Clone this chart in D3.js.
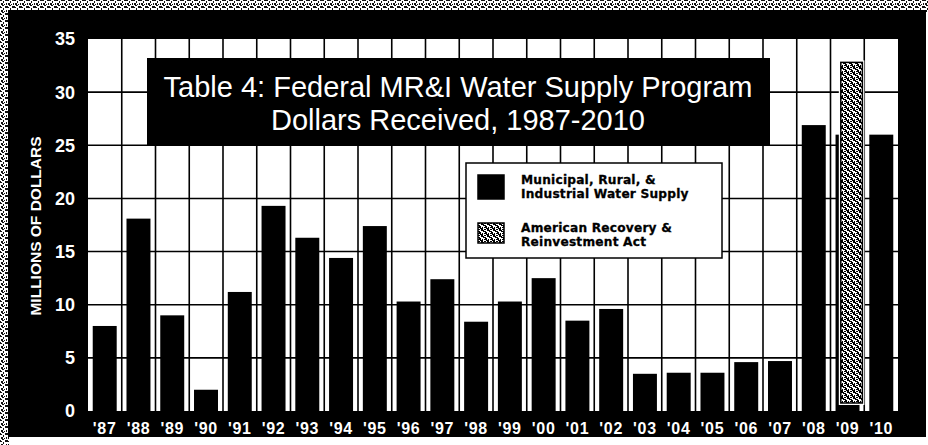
<!DOCTYPE html>
<html>
<head>
<meta charset="utf-8">
<script src="https://cdn.jsdelivr.net/npm/d3@7"></script>
<style>
  html, body { margin: 0; padding: 0; background: #fff; }
  svg { display: block; }
</style>
</head>
<body>
<svg id="chart" width="928" height="445"></svg>
<script>
// ---- data ----
const years = ["'87","'88","'89","'90","'91","'92","'93","'94","'95","'96","'97","'98","'99","'00","'01","'02","'03","'04","'05","'06","'07","'08","'09","'10"];
const mriValues = [8.0, 18.1, 9.0, 2.0, 11.2, 19.3, 16.3, 14.4, 17.4, 10.3, 12.4, 8.4, 10.3, 12.5, 8.5, 9.6, 3.5, 3.6, 3.6, 4.6, 4.7, 26.9, 26.0, 26.0];
const arraYears = ["'09"];
const arraValues = [32.8];
const yTicks = [0, 5, 10, 15, 20, 25, 30, 35];
const titleLines = ["Table 4: Federal MR&I Water Supply Program", "Dollars Received, 1987-2010"];
const legendItems = [
  { key: "mri", lines: ["Municipal, Rural, &", "Industrial Water Supply"] },
  { key: "arra", lines: ["American Recovery &", "Reinvestment Act"] }
];
const yTitle = "MILLIONS OF DOLLARS";

// ---- layout ----
const svg = d3.select("#chart");
const W = 928, H = 445;
const plot = { left: 88, right: 898, top: 39, bottom: 411 };
const FONT = "'Liberation Sans', Arial, Helvetica, sans-serif";
const FONT_HEAVY = "'DejaVu Sans', 'Liberation Sans', Arial, sans-serif";

const defs = svg.append("defs");
// scan speckle pattern for the frame
const speck = defs.append("pattern").attr("id", "speck").attr("patternUnits", "userSpaceOnUse")
  .attr("width", 7).attr("height", 7);
speck.append("rect").attr("width", 7).attr("height", 7).attr("fill", "#fff");
[[0,0,2,1],[3,1,1,2],[5,0,2,1],[1,3,2,2],[4,4,1,1],[6,3,1,2],[0,6,1,1],[2,5,2,1],[5,6,2,1]].forEach(d =>
  speck.append("rect").attr("x", d[0]).attr("y", d[1]).attr("width", d[2]).attr("height", d[3]).attr("fill", "#111"));
// ARRA texture (dark speckle)
const arraPat = defs.append("pattern").attr("id", "arraPat").attr("patternUnits", "userSpaceOnUse")
  .attr("width", 6).attr("height", 6);
arraPat.append("rect").attr("width", 6).attr("height", 6).attr("fill", "#fff");
[[0,0,2,1],[2,0,1,2],[4,1,2,1],[1,2,2,1],[3,3,2,1],[0,4,1,2],[5,3,1,2],[2,5,1,1],[4,5,2,1],[1,1,1,1],[3,2,1,1]].forEach(d =>
  arraPat.append("rect").attr("x", d[0]).attr("y", d[1]).attr("width", d[2]).attr("height", d[3]).attr("fill", "#000"));

// background with scanned edges
svg.append("rect").attr("width", W).attr("height", H).attr("fill", "#fff");
svg.append("rect").attr("x", 0).attr("y", 0).attr("width", W).attr("height", 12).attr("fill", "url(#speck)");
svg.append("rect").attr("x", 0).attr("y", 0).attr("width", 9).attr("height", H).attr("fill", "url(#speck)");
// black panel
svg.append("rect").attr("x", 8).attr("y", 10).attr("width", 918).attr("height", 427).attr("fill", "#000");

// scales
const x = d3.scaleBand().domain(years).range([plot.left, plot.right]).paddingInner(0.29).paddingOuter(0.14);
const xGrid = d3.scaleBand().domain(years).range([plot.left, plot.right]);
const y = d3.scaleLinear().domain([0, 35]).range([plot.bottom, plot.top]);

// white plot area
svg.append("rect").attr("x", plot.left).attr("y", plot.top)
  .attr("width", plot.right - plot.left).attr("height", plot.bottom - plot.top).attr("fill", "#fff");

// grid
const grid = svg.append("g").attr("stroke", "#000").attr("stroke-width", 1.6);
grid.selectAll("line.h").data(yTicks.filter(t => t > 0 && t < 35)).join("line")
  .attr("x1", plot.left).attr("x2", plot.right)
  .attr("y1", d => y(d)).attr("y2", d => y(d));
grid.selectAll("line.v").data(years.slice(1)).join("line")
  .attr("x1", d => xGrid(d)).attr("x2", d => xGrid(d))
  .attr("y1", plot.top).attr("y2", plot.bottom);

// title box
const tb = svg.append("g");
tb.append("rect").attr("x", 147).attr("y", 58).attr("width", 623).attr("height", 88).attr("fill", "#000");
tb.selectAll("text").data(titleLines).join("text")
  .attr("x", 458).attr("y", (d, i) => 97 + i * 33)
  .attr("text-anchor", "middle").attr("fill", "#fff")
  .attr("font-family", FONT).attr("font-size", 29)
  .text(d => d);

// legend
const lg = svg.append("g");
lg.append("rect").attr("x", 466).attr("y", 163).attr("width", 256).attr("height", 95)
  .attr("fill", "#fff").attr("stroke", "#000").attr("stroke-width", 1.5);
const li = lg.selectAll("g.item").data(legendItems).join("g").attr("class", "item")
  .attr("transform", (d, i) => `translate(0, ${i * 48})`);
li.append("rect")
  .attr("x", 478).attr("y", 175)
  .attr("width", 26).attr("height", d => d.key === "mri" ? 24 : 20)
  .attr("fill", d => d.key === "mri" ? "#000" : "url(#arraPat)")
  .attr("stroke", "#000").attr("stroke-width", 1.5);
li.each(function(d) {
  d3.select(this).selectAll("text").data(d.lines).join("text")
    .attr("x", 521).attr("y", (t, j) => 183.5 + j * 14)
    .attr("fill", "#000").attr("font-family", FONT_HEAVY).attr("font-weight", "bold")
    .attr("font-size", 12.2).attr("stroke", "#000").attr("stroke-width", 0.3)
    .attr("letter-spacing", 0.2)
    .text(t => t);
});

// bars
svg.append("g").selectAll("rect").data(years.map((yr, i) => ({ yr, v: mriValues[i] }))).join("rect")
  .attr("x", d => x(d.yr)).attr("width", x.bandwidth())
  .attr("y", d => y(d.v)).attr("height", d => y(0) - y(d.v))
  .attr("fill", "#000");

const arraData = arraYears.map((yr, i) => ({ yr, v: arraValues[i] }));
svg.append("g").selectAll("rect").data(arraData).join("rect")
  .attr("x", d => x(d.yr) + x.bandwidth() * 0.22 - 2).attr("width", x.bandwidth() * 0.9 + 4)
  .attr("y", d => y(d.v) - 2).attr("height", d => y(0) - y(d.v) - 4)
  .attr("fill", "#fff");
svg.append("g").selectAll("rect").data(arraData).join("rect")
  .attr("x", d => x(d.yr) + x.bandwidth() * 0.22).attr("width", x.bandwidth() * 0.9)
  .attr("y", d => y(d.v)).attr("height", d => y(0) - y(d.v) - 8)
  .attr("fill", "url(#arraPat)").attr("stroke", "#000").attr("stroke-width", 1.5);

// y axis labels
svg.append("g").selectAll("text").data(yTicks).join("text")
  .attr("x", 75).attr("y", d => y(d)).attr("dy", "0.36em")
  .attr("text-anchor", "end").attr("fill", "#fff")
  .attr("font-family", FONT).attr("font-weight", "bold").attr("font-size", 18)
  .text(d => d);

// x axis labels
svg.append("g").selectAll("text").data(years).join("text")
  .attr("x", d => x(d) + x.bandwidth() / 2).attr("y", 434)
  .attr("text-anchor", "middle").attr("fill", "#fff")
  .attr("font-family", FONT).attr("font-weight", "bold").attr("font-size", 16)
  .attr("letter-spacing", 0.7)
  .text(d => d);

// y title
svg.append("text")
  .attr("transform", "translate(41, 226) rotate(-90)")
  .attr("text-anchor", "middle").attr("fill", "#fff")
  .attr("font-family", FONT).attr("font-weight", "bold").attr("font-size", 15.5)
  .text(yTitle);
</script>
</body>
</html>
